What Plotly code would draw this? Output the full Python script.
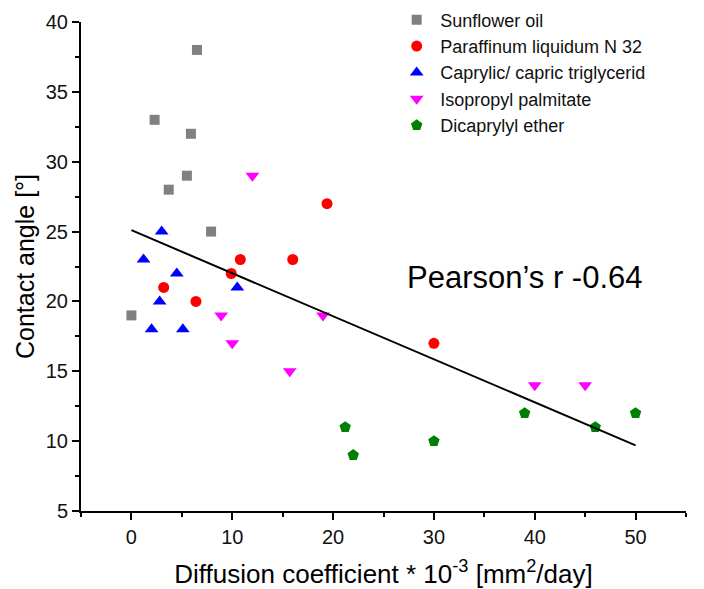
import plotly.graph_objects as go

sun_x = [6.5, 2.3, 5.9, 5.5, 3.7, 7.9, 0.0]
sun_y = [38, 33, 32, 29, 28, 25, 19]

par_x = [19.4, 10.8, 16.0, 9.9, 3.2, 6.4, 30.0]
par_y = [27, 23, 23, 22, 21, 20, 17]

cap_x = [3.0, 1.2, 4.5, 10.5, 2.8, 2.0, 5.1]
cap_y = [25, 23, 22, 21, 20, 18, 18]

iso_x = [12.0, 8.9, 10.0, 15.7, 19.0, 40.0, 45.0]
iso_y = [29, 19, 17, 15, 19, 14, 14]

dic_x = [21.2, 22.0, 30.0, 39.0, 46.0, 50.0]
dic_y = [11, 9, 10, 12, 11, 12]

fit_x = [0, 50]
fit_y = [25.1, 9.7]

x_ticks = [0, 10, 20, 30, 40, 50]
y_ticks = [5, 10, 15, 20, 25, 30, 35, 40]

FONT = "Liberation Sans, Arial, sans-serif"

fig = go.Figure()
series = [
    ("Sunflower oil", sun_x, sun_y, "square", "#808080", 10),
    ("Paraffinum liquidum N 32", par_x, par_y, "circle", "#ff0000", 11),
    ("Caprylic/ capric triglycerid", cap_x, cap_y, "triangle-up", "#0000ff", 12),
    ("Isopropyl palmitate", iso_x, iso_y, "triangle-down", "#ff00ff", 12),
    ("Dicaprylyl ether", dic_x, dic_y, "pentagon", "#008000", 12),
]
for name, xs, ys, sym, col, sz in series:
    fig.add_trace(go.Scatter(x=xs, y=ys, mode="markers", name=name,
                             marker=dict(symbol=sym, color=col, size=sz, line=dict(width=0))))

fig.add_trace(go.Scatter(x=fit_x, y=fit_y, mode="lines", showlegend=False,
                         line=dict(color="black", width=2)))

fig.add_annotation(x=27.1, y=21.7, xref="x", yref="y", text="Pearson’s r -0.64",
                   showarrow=False, xanchor="left", yanchor="middle",
                   font=dict(family=FONT, size=31, color="black"))

fig.update_layout(
    width=704, height=589,
    margin=dict(l=81, r=18, t=22, b=78, autoexpand=False),
    paper_bgcolor="white", plot_bgcolor="white",
    font=dict(family=FONT, color="black"),
    legend=dict(x=0.516, y=1.042, xanchor="left", yanchor="top",
                font=dict(family=FONT, size=18, color="#111"),
                bgcolor="rgba(0,0,0,0)", itemwidth=37, tracegroupgap=0),
)
fig.update_xaxes(range=[-5, 55], tickvals=x_ticks, showgrid=False, zeroline=False,
                 showline=True, linecolor="black", linewidth=2,
                 ticks="outside", ticklen=7, tickwidth=2, tickcolor="black",
                 minor=dict(tickvals=[-5, 5, 15, 25, 35, 45, 55], ticks="outside", ticklen=4, tickwidth=2, tickcolor="black"),
                 tickfont=dict(size=20, family=FONT, color="#111"),
                 title=dict(text="Diffusion coefficient * 10<sup>-3</sup> [mm<sup>2</sup>/day]",
                            font=dict(size=26, family=FONT), standoff=19))
fig.update_yaxes(range=[5, 40], tickvals=y_ticks, showgrid=False, zeroline=False,
                 showline=True, linecolor="black", linewidth=2,
                 ticks="outside", ticklen=7, tickwidth=2, tickcolor="black",
                 minor=dict(tickvals=[7.5, 12.5, 17.5, 22.5, 27.5, 32.5, 37.5], ticks="outside", ticklen=4, tickwidth=2, tickcolor="black"),
                 tickfont=dict(size=20, family=FONT, color="#111"),
                 title=dict(text="Contact angle [°]", font=dict(size=25, family=FONT), standoff=4))

fig.write_html("out.html")
